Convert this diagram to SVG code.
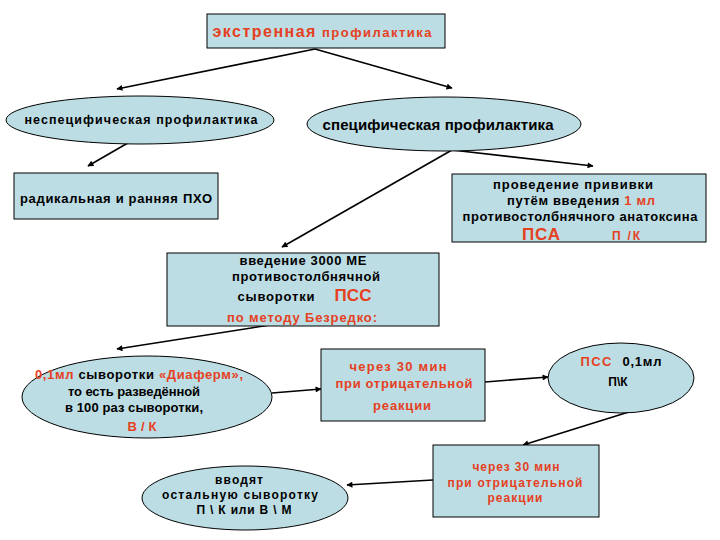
<svg xmlns="http://www.w3.org/2000/svg" width="720" height="540" viewBox="0 0 720 540">
<defs>
<marker id="ah" viewBox="0 0 10 10" refX="9" refY="5" markerWidth="7" markerHeight="6" orient="auto" markerUnits="userSpaceOnUse">
<path d="M0,0 L10,5 L0,10 z" fill="#000"/>
</marker>
<style>
.n{fill:#bcdde3;stroke:#000;stroke-width:1}
text{font-family:"Liberation Sans",Arial,sans-serif;font-weight:bold;font-size:13px;fill:#000}
.c{text-anchor:middle}
.r{fill:#e5401f}
.e{stroke:#000;stroke-width:1.6;fill:none;marker-end:url(#ah)}
</style>
</defs>
<rect width="720" height="540" fill="#fff"/>
<g id="connectors">
<line class="e" x1="315" y1="49" x2="117" y2="89"/>
<line class="e" x1="315" y1="49" x2="452" y2="88"/>
<line class="e" x1="133" y1="140" x2="88" y2="166"/>
<line class="e" x1="452" y1="150" x2="593" y2="166"/>
<line class="e" x1="452" y1="150" x2="282" y2="247"/>
<line class="e" x1="270" y1="325" x2="117" y2="349"/>
<line class="e" x1="272" y1="393" x2="321" y2="389"/>
<line class="e" x1="485" y1="382" x2="548" y2="377"/>
<line class="e" x1="632" y1="411" x2="523" y2="445"/>
<line class="e" x1="433" y1="480" x2="347" y2="485"/>
</g>
<g id="n1">
<rect class="n" x="207" y="14" width="238" height="34"/>
<text class="c r" x="322" y="37" textLength="219"><tspan style="font-size:16px">экстренная</tspan> <tspan style="font-size:13px">профилактика</tspan></text>
</g>
<g id="n2">
<ellipse class="n" cx="140" cy="120" rx="134" ry="24"/>
<text class="c" x="141" y="124" style="font-size:12.5px" textLength="233">неспецифическая  профилактика</text>
</g>
<g id="n3">
<ellipse class="n" cx="444" cy="124" rx="137" ry="27"/>
<text class="c" x="438" y="130" style="font-size:15px" textLength="231">специфическая профилактика</text>
</g>
<g id="n4">
<rect class="n" x="14" y="173" width="204" height="46"/>
<text class="c" x="116" y="203" textLength="192">радикальная и ранняя  ПХО</text>
</g>
<g id="n5">
<rect class="n" x="452" y="174" width="254" height="68"/>
<text class="c" x="573" y="189" textLength="160">проведение прививки</text>
<text class="c" x="581" y="205" textLength="148">путём введения <tspan class="r">1 мл</tspan></text>
<text class="c" x="580" y="221" textLength="235">противостолбнячного анатоксина</text>
<text class="c r" x="541" y="240" style="font-size:17px" textLength="38">ПСА</text>
<text class="c r" x="626" y="240" style="font-size:12px" textLength="28">П /К</text>
</g>
<g id="n6">
<rect class="n" x="167" y="253" width="272" height="73"/>
<text class="c" x="303" y="265" textLength="127">введение 3000 МЕ</text>
<text class="c" x="306" y="281" textLength="148">противостолбнячной</text>
<text class="c" x="276" y="301" textLength="77">сыворотки</text>
<text class="c r" x="353" y="301" style="font-size:17px" textLength="37">ПСС</text>
<text class="c r" x="302" y="322" textLength="150">по методу Безредко:</text>
</g>
<g id="n7">
<ellipse class="n" cx="147" cy="397" rx="125" ry="41"/>
<text class="c" x="139" y="379" textLength="208"><tspan class="r">0,1мл</tspan> сыворотки <tspan class="r">«Диаферм»,</tspan></text>
<text class="c" x="134" y="396" textLength="132">то есть разведённой</text>
<text class="c" x="134" y="412" textLength="138">в 100 раз сыворотки,</text>
<text class="c r" x="142" y="431" textLength="29">В / К</text>
</g>
<g id="n8">
<rect class="n" x="321" y="349" width="164" height="72"/>
<text class="c r" x="398" y="371" textLength="97">через 30 мин</text>
<text class="c r" x="404" y="388" textLength="137">при отрицательной</text>
<text class="c r" x="402" y="410" textLength="58">реакции</text>
</g>
<g id="n9">
<ellipse class="n" cx="621" cy="378" rx="73" ry="35"/>
<text class="c r" x="596" y="366" textLength="31">ПСС</text>
<text class="c" x="642" y="366" textLength="39">0,1мл</text>
<text class="c" x="618" y="386" style="font-size:12px">П\К</text>
</g>
<g id="n10">
<rect class="n" x="433" y="445" width="166" height="72"/>
<text class="c r" x="516" y="471" style="font-size:12px" textLength="87">через 30 мин</text>
<text class="c r" x="515" y="487" style="font-size:12px" textLength="135">при отрицательной</text>
<text class="c r" x="515" y="502" style="font-size:12px" textLength="55">реакции</text>
</g>
<g id="n11">
<ellipse class="n" cx="245" cy="498" rx="103" ry="32"/>
<text class="c" x="239" y="484" style="font-size:12px" textLength="48">вводят</text>
<text class="c" x="240" y="499" style="font-size:12px" textLength="156">остальную  сыворотку</text>
<text class="c" x="244" y="514" style="font-size:12px" textLength="95">П \ К или В \ М</text>
</g>
</svg>
